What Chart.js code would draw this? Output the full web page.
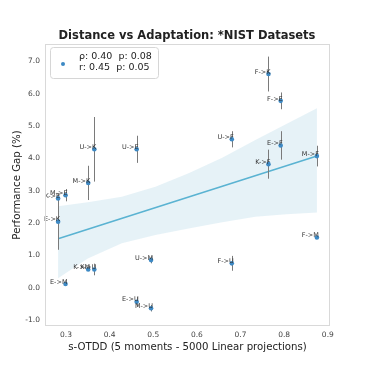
<!DOCTYPE html>
<html>
<head>
<meta charset="utf-8">
<script src="https://cdn.jsdelivr.net/npm/chart.js@4.4.1/dist/chart.umd.min.js"></script>
<style>
  html, body { margin: 0; padding: 0; background: #fff; }
  #wrap { width: 366px; height: 366px; }
</style>
</head>
<body>
<div id="wrap"><canvas id="scatterChart" width="366" height="366"></canvas></div>
<script>
// source -> target pairs (M=MNIST, E=EMNIST, K=KMNIST, F=FashionMNIST, U=USPS)
const pairLabels = ['F->K', 'F->E', 'U->F', 'E->F', 'M->F', 'K->F', 'U->K', 'U->E', 'M->K', 'K->E',
                    'M->E', 'E->K', 'E->M', 'K->M', 'K->U', 'U->M', 'E->U', 'M->U', 'F->M', 'F->U'];
const distances  = [0.764, 0.792, 0.680, 0.792, 0.875, 0.764, 0.365, 0.462, 0.351, 0.282,
                    0.299, 0.282, 0.299, 0.351, 0.365, 0.495, 0.462, 0.495, 0.875, 0.680];
const gaps       = [6.61, 5.78, 4.59, 4.40, 4.07, 3.82, 4.28, 4.28, 3.24, 2.76,
                    2.86, 2.04, 0.11, 0.56, 0.56, 0.85, -0.44, -0.64, 1.55, 0.75];
const gapErrors  = [0.54, 0.26, 0.25, 0.44, 0.32, 0.45, 1.00, 0.42, 0.53, 0.03,
                    0.19, 0.87, 0.04, 0.02, 0.18, 0.10, 0.15, 0.10, 0.04, 0.23];

// regression fit + confidence band
const fitX = [0.282, 0.875];
const fitY = [1.51, 4.07];
const bandX     = [0.282, 0.350, 0.428, 0.505, 0.581, 0.658, 0.734, 0.805, 0.875];
const bandUpper = [2.52, 2.64, 2.81, 3.12, 3.54, 4.02, 4.57, 5.06, 5.55];
const bandLower = [0.29, 0.90, 1.37, 1.63, 1.83, 2.02, 2.19, 2.27, 2.32];

const xTicks = [0.3, 0.4, 0.5, 0.6, 0.7, 0.8, 0.9];
const yTicks = [-1, 0, 1, 2, 3, 4, 5, 6, 7];
const chartTitle = 'Distance vs Adaptation: *NIST Datasets';
const legendLines = ['\u03C1: 0.40  p: 0.08', 'r: 0.45  p: 0.05'];

const FONT = "'DejaVu Sans', sans-serif";
const pointColor = '#3d89c4';

const frameAndExtras = {
  id: 'frameAndExtras',
  beforeDatasetDraw(chart, args) {
    if (args.index !== 0) return;
    // error bars
    const ctx = chart.ctx;
    const xs = chart.scales.x, ys = chart.scales.y;
    ctx.save();
    ctx.strokeStyle = '#7a7a7a';
    ctx.lineWidth = 1;
    for (let i = 0; i < gaps.length; i++) {
      const px = Math.round(xs.getPixelForValue(distances[i])) + 0.5;
      ctx.beginPath();
      ctx.moveTo(px, ys.getPixelForValue(gaps[i] + gapErrors[i]));
      ctx.lineTo(px, ys.getPixelForValue(gaps[i] - gapErrors[i]));
      ctx.stroke();
    }
    ctx.restore();
  },
  afterDatasetsDraw(chart) {
    const ctx = chart.ctx;
    const xs = chart.scales.x, ys = chart.scales.y;
    const area = chart.chartArea;
    ctx.save();
    // title
    ctx.fillStyle = '#222';
    ctx.textAlign = 'center';
    ctx.textBaseline = 'middle';
    ctx.font = 'bold 11.5px ' + FONT;
    ctx.fillText(chartTitle, 187, 36);
    // point labels
    ctx.font = '6.5px ' + FONT;
    ctx.fillStyle = '#333';
    ctx.textAlign = 'right';
    for (let i = 0; i < gaps.length; i++) {
      ctx.fillText(pairLabels[i], xs.getPixelForValue(distances[i]) + 2, ys.getPixelForValue(gaps[i]) - 2);
    }
    // frame
    ctx.strokeStyle = '#d9d9d9';
    ctx.lineWidth = 1;
    ctx.strokeRect(area.left + 0.5, area.top + 0.5, area.right - area.left - 1, area.bottom - area.top - 1);
    // legend
    const lx = area.left + 5, ly = area.top + 3, lw = 108, lh = 31;
    ctx.fillStyle = 'rgba(255,255,255,0.85)';
    ctx.strokeStyle = '#d6d6d6';
    ctx.beginPath();
    ctx.roundRect(lx + 0.5, ly + 0.5, lw, lh, 3);
    ctx.fill();
    ctx.stroke();
    ctx.fillStyle = pointColor;
    ctx.beginPath();
    ctx.arc(lx + 13, ly + 17, 2, 0, Math.PI * 2);
    ctx.fill();
    ctx.fillStyle = '#222';
    ctx.textAlign = 'left';
    ctx.font = '9.5px ' + FONT;
    ctx.fillText(legendLines[0], lx + 29, ly + 9.5);
    ctx.fillText(legendLines[1], lx + 29, ly + 21);
    ctx.restore();
  }
};

new Chart(document.getElementById('scatterChart').getContext('2d'), {
  type: 'scatter',
  data: {
    datasets: [
      {
        label: 'pairs',
        data: distances.map((d, i) => ({ x: d, y: gaps[i] })),
        backgroundColor: pointColor,
        borderColor: pointColor,
        pointRadius: 2.3,
        borderWidth: 0
      },
      {
        label: 'fit',
        type: 'line',
        data: fitX.map((d, i) => ({ x: d, y: fitY[i] })),
        borderColor: '#5ab3d2',
        borderWidth: 1.6,
        pointRadius: 0,
        fill: false
      },
      {
        label: 'lower',
        type: 'line',
        data: bandX.map((d, i) => ({ x: d, y: bandLower[i] })),
        borderWidth: 0,
        borderColor: 'rgba(0,0,0,0)',
        pointRadius: 0,
        fill: false
      },
      {
        label: 'upper',
        type: 'line',
        data: bandX.map((d, i) => ({ x: d, y: bandUpper[i] })),
        borderWidth: 0,
        borderColor: 'rgba(0,0,0,0)',
        backgroundColor: 'rgba(180,215,232,0.33)',
        pointRadius: 0,
        fill: '-1'
      }
    ]
  },
  options: {
    responsive: false,
    animation: false,
    layout: { padding: { left: 0, right: 36, top: 44, bottom: 0 } },
    plugins: {
      legend: { display: false },
      tooltip: { enabled: false },
      title: { display: false }
    },
    scales: {
      x: {
        type: 'linear',
        min: 0.252,
        max: 0.905,
        grid: { display: false, drawTicks: false },
        border: { display: false },
        afterBuildTicks: s => { s.ticks = xTicks.map(v => ({ value: v })); },
        afterFit: s => { s.height = 40; },
        ticks: {
          padding: 5,
          color: '#444',
          font: { family: FONT, size: 7.5 },
          callback: v => v.toFixed(1)
        },
        title: {
          display: true,
          text: 's-OTDD (5 moments - 5000 Linear projections)',
          color: '#222',
          font: { family: FONT, size: 10.2 },
          padding: { top: 1, bottom: 12.5 }
        }
      },
      y: {
        type: 'linear',
        min: -1.19,
        max: 7.54,
        grid: { display: false, drawTicks: false },
        border: { display: false },
        afterBuildTicks: s => { s.ticks = yTicks.map(v => ({ value: v })); },
        afterFit: s => { s.width = 45; },
        ticks: {
          padding: 5,
          color: '#444',
          font: { family: FONT, size: 7.5 },
          callback: v => v.toFixed(1)
        },
        title: {
          display: true,
          text: 'Performance Gap (%)',
          color: '#222',
          font: { family: FONT, size: 10.2 },
          padding: { top: 11, bottom: 4 }
        }
      }
    }
  },
  plugins: [frameAndExtras]
});
</script>
</body>
</html>
